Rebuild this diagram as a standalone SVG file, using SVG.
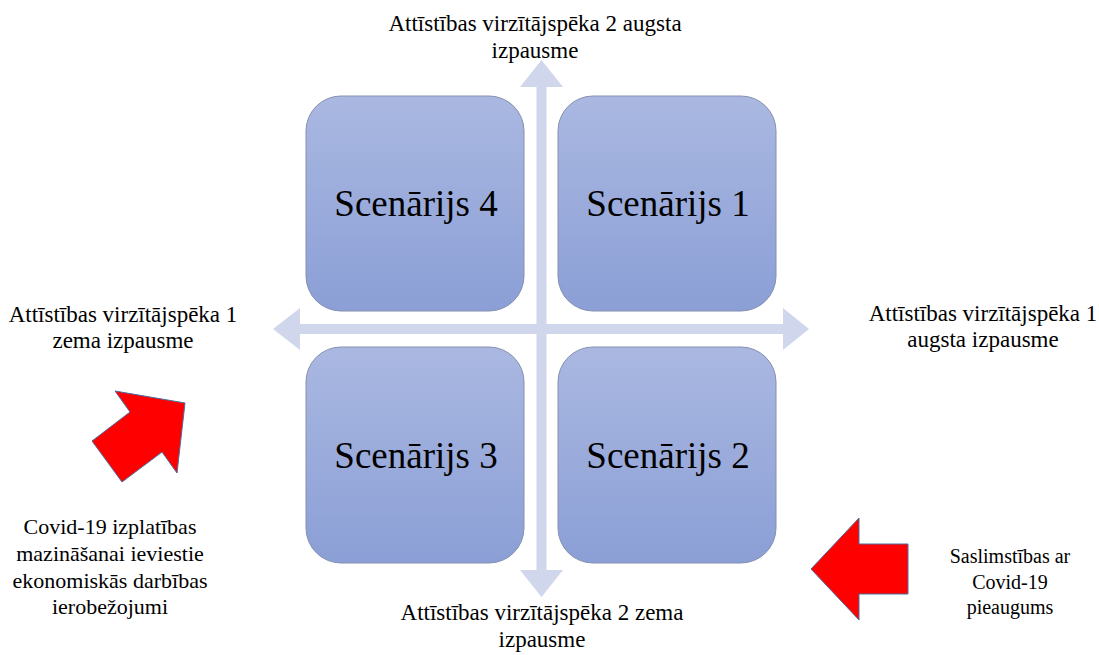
<svg xmlns="http://www.w3.org/2000/svg" width="1099" height="655" viewBox="0 0 1099 655">
<defs>
<linearGradient id="boxg" x1="0" y1="0" x2="0" y2="1">
<stop offset="0" stop-color="#aab8e1"/>
<stop offset="1" stop-color="#8b9fd6"/>
</linearGradient>
<style>
text{font-family:"Liberation Serif",serif;fill:#000;text-anchor:middle}
.box{fill:url(#boxg);stroke:#8590b0;stroke-width:1}
.scen{font-size:37px}
.lbl{font-size:23px}
.lbl2{font-size:22px}
.lbl3{font-size:20px}
.axis{fill:#d0d6ec;stroke:none}
.red{fill:#ff0000;stroke:#4a6da0;stroke-width:1}
</style>
</defs>
<rect width="1099" height="655" fill="#ffffff"/>
<g id="connectors">
<polygon class="axis" points="273,329 300,308 300,324 783,324 783,308 809,329 783,350 783,334 300,334 300,350"/>
<polygon class="axis" points="541.5,60 563,87 546.5,87 546.5,570 563,570 541.5,597 520,570 536.5,570 536.5,87 520,87"/>
<polygon class="red" points="185,403 177,473 162,452 122,482 92,441 130,412 115,391"/>
<polygon class="red" points="811,569 859,518 859,544 908,544 908,594 859,594 859,620"/>
</g>
<g id="scenario4">
<rect class="box" x="306" y="96" width="218" height="215" rx="35" ry="35"/>
<text class="scen" x="416" y="216" font-family="Liberation Serif, serif">Scenārijs 4</text>
</g>
<g id="scenario1">
<rect class="box" x="558" y="96" width="218" height="215" rx="35" ry="35"/>
<text class="scen" x="668" y="216" font-family="Liberation Serif, serif">Scenārijs 1</text>
</g>
<g id="scenario3">
<rect class="box" x="306" y="347" width="218" height="216" rx="35" ry="35"/>
<text class="scen" x="416" y="468" font-family="Liberation Serif, serif">Scenārijs 3</text>
</g>
<g id="scenario2">
<rect class="box" x="558" y="347" width="218" height="216" rx="35" ry="35"/>
<text class="scen" x="668" y="468" font-family="Liberation Serif, serif">Scenārijs 2</text>
</g>
<g id="label-top">
<text class="lbl" x="535" y="31">Attīstības virzītājspēka 2 augsta</text>
<text class="lbl" x="535" y="58">izpausme</text>
</g>
<g id="label-bottom">
<text class="lbl" x="542" y="620">Attīstības virzītājspēka 2 zema</text>
<text class="lbl" x="542" y="647">izpausme</text>
</g>
<g id="label-left">
<text class="lbl" x="123" y="322">Attīstības virzītājspēka 1</text>
<text class="lbl" x="123" y="348">zema izpausme</text>
</g>
<g id="label-right">
<text class="lbl" x="983" y="321">Attīstības virzītājspēka 1</text>
<text class="lbl" x="983" y="347">augsta izpausme</text>
</g>
<g id="label-covid-left">
<text class="lbl2" x="110" y="534">Covid-19 izplatības</text>
<text class="lbl2" x="110" y="561">mazināšanai ieviestie</text>
<text class="lbl2" x="110" y="588">ekonomiskās darbības</text>
<text class="lbl2" x="110" y="614">ierobežojumi</text>
</g>
<g id="label-covid-right">
<text class="lbl3" x="1010" y="563">Saslimstības ar</text>
<text class="lbl3" x="1010" y="589">Covid-19</text>
<text class="lbl3" x="1010" y="614">pieaugums</text>
</g>
</svg>
